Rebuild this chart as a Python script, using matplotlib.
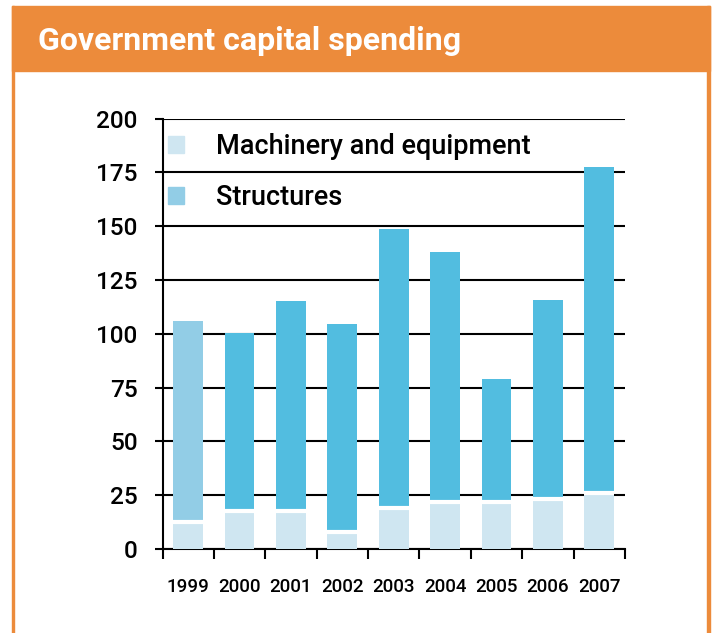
import matplotlib
matplotlib.use('Agg')
import matplotlib.pyplot as plt
from matplotlib.patches import Rectangle, Patch
import numpy as np

plt.rcParams['font.family'] = 'Roboto'

ORANGE = "#EC8B3B"
STRUCT = "#52BDE0"
STRUCT_99 = "#92CDE6"
MACH = "#CFE6F1"

years = ['1999', '2000', '2001', '2002', '2003', '2004', '2005', '2006', '2007']
machinery = [12.6, 17.8, 17.8, 7.9, 19.2, 21.7, 22.0, 23.4, 26.0]
structures = [93.1, 82.5, 97.4, 96.6, 129.4, 116.1, 56.9, 92.2, 151.6]
y_ticks = [0, 25, 50, 75, 100, 125, 150, 175, 200]

W, H = 712, 633
fig = plt.figure(figsize=(W / 100, H / 100), dpi=100)
fig.patch.set_facecolor('white')


def px(x0, y0, x1, y1):
    # pixel box (top-left origin) -> figure fraction rectangle args
    return (x0 / W, 1 - y1 / H), (x1 - x0) / W, (y1 - y0) / H


# orange frame + header band
for box in [(12, 6, 14, 640), (707, 6, 709.5, 640), (12, 6, 709.5, 71)]:
    xy, w, h = px(*box)
    fig.patches.append(Rectangle(xy, w, h, transform=fig.transFigure, color=ORANGE, zorder=0))
fig.text(38 / W, 1 - 41 / H, 'Government capital spending', color='white',
         fontsize=23, fontweight='bold', va='center', ha='left')

ax = fig.add_axes([162.5 / W, 84 / H, 462.5 / W, 430.5 / H])
x = np.arange(len(years))
bw = 0.58
struct_colors = [STRUCT_99] + [STRUCT] * (len(years) - 1)
ax.bar(x, machinery, width=bw, color=MACH, zorder=3)
ax.bar(x, structures, width=bw, bottom=machinery, color=struct_colors, zorder=3)
ax.hlines(machinery, x - bw / 2, x + bw / 2, color='white', lw=3, zorder=4)

ax.set_xlim(-0.5, len(years) - 0.5)
ax.set_ylim(0, 200)
ax.set_yticks(y_ticks)
ax.yaxis.grid(True, color='black', lw=1.5, zorder=1)
ax.set_axisbelow(True)

# boundaries get the tick marks, centres get the year labels
ax.set_xticks(np.arange(len(years) + 1) - 0.5)
ax.set_xticklabels([])
ax.set_xticks(x, minor=True)
ax.set_xticklabels(years, minor=True, fontsize=13.5, fontweight='medium')
ax.tick_params(axis='x', which='major', direction='out', length=7, width=1.5)
ax.tick_params(axis='x', which='minor', length=0, pad=21)
ax.tick_params(axis='y', direction='out', length=6, width=1.5, labelsize=17.5, pad=12)
for lab in ax.get_yticklabels():
    lab.set_fontweight('medium')

for s in ['top', 'right']:
    ax.spines[s].set_visible(False)
for s in ['left', 'bottom']:
    ax.spines[s].set_linewidth(1.5)

handles = [Patch(color=MACH), Patch(color=STRUCT_99)]
leg = ax.legend(handles, ['Machinery and equipment', 'Structures'], loc='upper left',
                bbox_to_anchor=(0.011, 0.967), frameon=False,
                prop={'size': 19.5, 'weight': 'medium'},
                handlelength=0.6, handleheight=0.6, handletextpad=1.2,
                labelspacing=0.9, borderpad=0, borderaxespad=0)

fig.savefig('out.png', dpi=100, facecolor='white')
